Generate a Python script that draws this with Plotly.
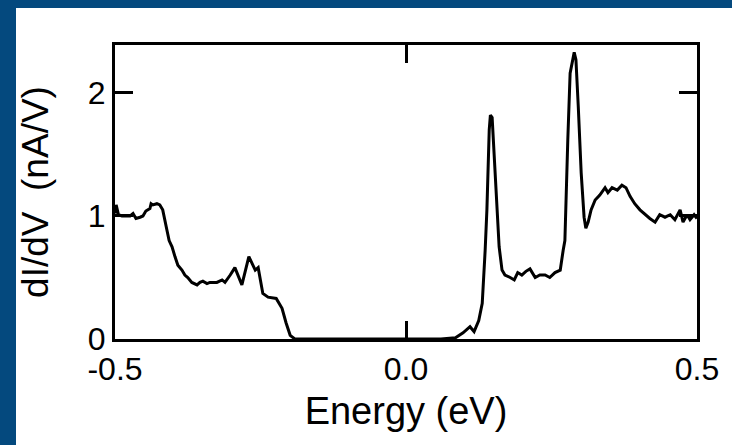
import plotly.graph_objects as go

energy = [-0.500, -0.498, -0.494, -0.488, -0.483, -0.474, -0.469, -0.464, -0.457, -0.452,
          -0.447, -0.440, -0.438, -0.435, -0.428, -0.423, -0.418, -0.414, -0.411, -0.407,
          -0.402, -0.397, -0.392, -0.385, -0.380, -0.375, -0.368, -0.359, -0.354, -0.349,
          -0.342, -0.337, -0.325, -0.316, -0.311, -0.302, -0.294, -0.282, -0.270, -0.259,
          -0.254, -0.246, -0.237, -0.223, -0.213, -0.206, -0.199, -0.191, -0.170, -0.140,
          -0.100, -0.060, -0.020, 0.020, 0.060, 0.085, 0.098, 0.110, 0.117, 0.125,
          0.131, 0.136, 0.139, 0.143, 0.145, 0.148, 0.151, 0.155, 0.160, 0.165,
          0.170, 0.179, 0.186, 0.192, 0.199, 0.206, 0.213, 0.222, 0.230, 0.239,
          0.247, 0.256, 0.265, 0.270, 0.273, 0.278, 0.282, 0.289, 0.292, 0.296,
          0.301, 0.306, 0.309, 0.313, 0.318, 0.325, 0.333, 0.342, 0.347, 0.354,
          0.363, 0.371, 0.378, 0.385, 0.393, 0.402, 0.411, 0.419, 0.428, 0.436,
          0.445, 0.454, 0.462, 0.471, 0.476, 0.483, 0.488, 0.495, 0.500]

didv = [1.02, 1.09, 1.01, 1.00, 1.00, 1.00, 1.02, 0.98, 0.99, 1.00,
        1.04, 1.06, 1.10, 1.09, 1.10, 1.09, 1.05, 0.97, 0.89, 0.80,
        0.75, 0.67, 0.60, 0.56, 0.52, 0.50, 0.46, 0.44, 0.46, 0.47,
        0.45, 0.46, 0.46, 0.48, 0.46, 0.52, 0.58, 0.44, 0.67, 0.56,
        0.58, 0.37, 0.34, 0.33, 0.25, 0.13, 0.03, 0.00, 0.00, 0.00,
        0.00, 0.00, 0.00, 0.00, 0.00, 0.01, 0.05, 0.10, 0.06, 0.15,
        0.29, 0.72, 1.05, 1.70, 1.82, 1.80, 1.54, 1.20, 0.75, 0.56,
        0.52, 0.50, 0.48, 0.54, 0.52, 0.55, 0.57, 0.50, 0.52, 0.52,
        0.50, 0.54, 0.56, 0.72, 0.80, 1.62, 2.16, 2.33, 2.27, 1.89,
        1.35, 0.99, 0.90, 0.95, 1.05, 1.13, 1.17, 1.23, 1.19, 1.23,
        1.21, 1.25, 1.23, 1.16, 1.10, 1.05, 1.01, 0.98, 0.95, 1.01,
        0.99, 1.01, 0.97, 1.05, 0.95, 1.01, 0.97, 1.01, 0.98]

x_ticks = [-0.5, 0.0, 0.5]
x_ticklabels = ["-0.5", "0.0", "0.5"]
y_ticks = [0, 1, 2]
y_ticklabels = ["0", "1", "2"]

FONT = "Liberation Sans, Arial, sans-serif"
BLUE = "#04497e"

W, H = 732, 445
ML, MR, MT, MB = 115, 35, 45, 106
PW, PH = W - ML - MR, H - MT - MB

def px_x(p):
    return (p - ML) / PW

def px_y(p):
    return (H - MB - p) / PH

fig = go.Figure()
fig.add_trace(go.Scatter(x=energy, y=didv, mode="lines",
                         line=dict(color="black", width=3), showlegend=False))

axis_common = dict(showline=True, linecolor="black", linewidth=3, mirror="ticks",
                   ticks="inside", ticklen=18, tickwidth=3, tickcolor="black",
                   showgrid=False, zeroline=False,
                   tickfont=dict(family=FONT, size=32, color="black"))

fig.update_xaxes(range=[-0.5, 0.5], tickvals=x_ticks, ticktext=x_ticklabels,
                 title=dict(text="Energy (eV)", font=dict(family=FONT, size=38, color="black"),
                            standoff=11),
                 **axis_common)
fig.update_yaxes(range=[0, 2.39], tickvals=y_ticks, ticktext=y_ticklabels,
                 title=dict(text="dI/dV  (nA/V)", font=dict(family=FONT, size=37, color="black"),
                            standoff=28),
                 **axis_common)

# blue frame bands (top and left)
fig.add_shape(type="rect", xref="paper", yref="paper", layer="below",
              x0=px_x(0), x1=px_x(16), y0=px_y(H), y1=px_y(0),
              fillcolor=BLUE, line=dict(width=0))
fig.add_shape(type="rect", xref="paper", yref="paper", layer="below",
              x0=px_x(0), x1=px_x(W), y0=px_y(8), y1=px_y(0),
              fillcolor=BLUE, line=dict(width=0))

fig.update_layout(width=W, height=H,
                  margin=dict(l=ML, r=MR, t=MT, b=MB, autoexpand=False),
                  paper_bgcolor="white", plot_bgcolor="white",
                  font=dict(family=FONT, color="black"))

fig.write_html("out.html", config={"displayModeBar": False},
               post_script="document.body.style.margin='0';document.body.style.overflow='hidden';")
